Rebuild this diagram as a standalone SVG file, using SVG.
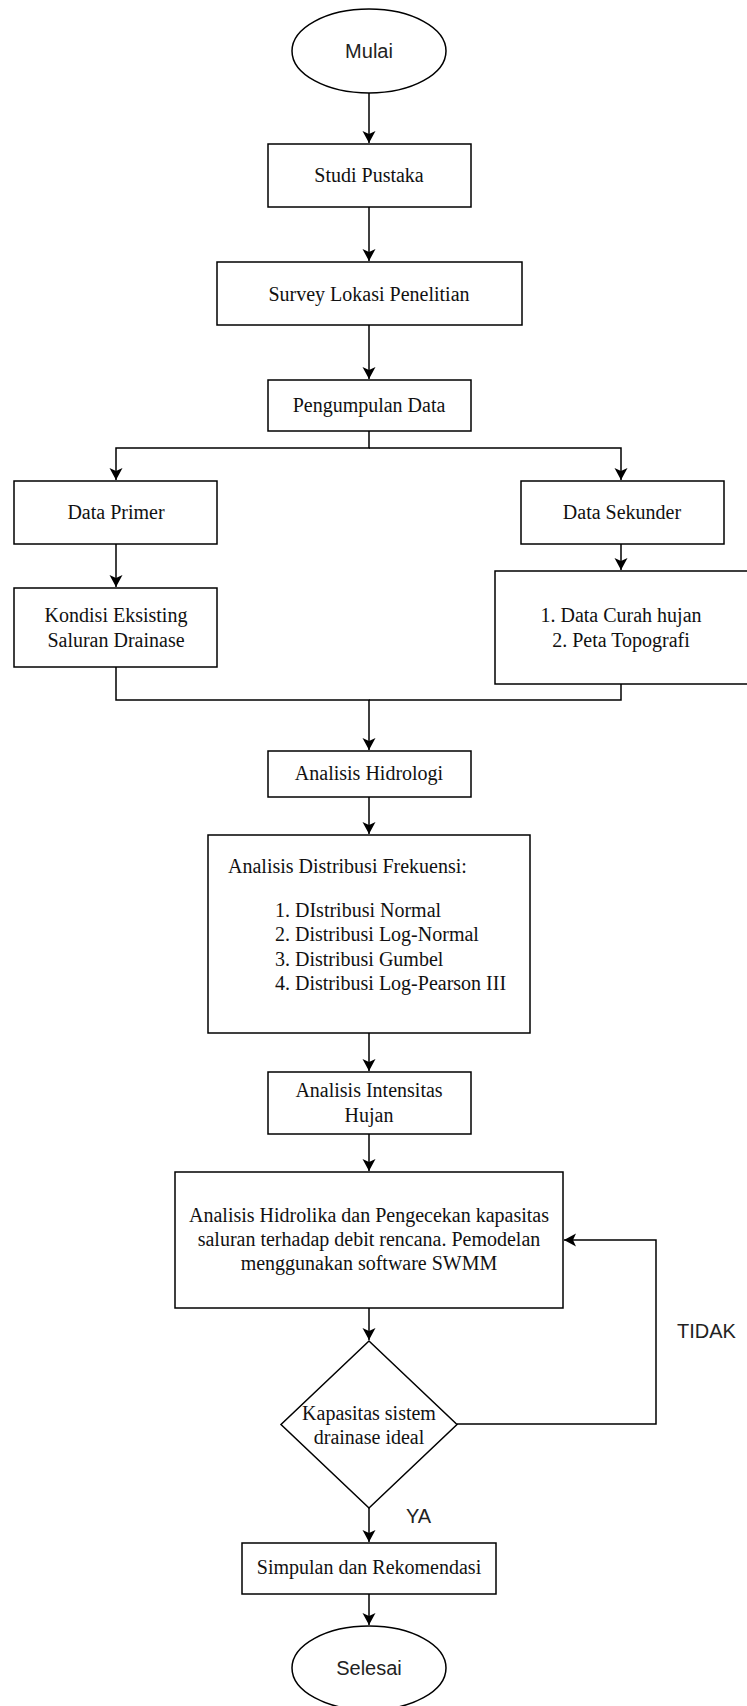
<svg xmlns="http://www.w3.org/2000/svg" width="747" height="1706" viewBox="0 0 747 1706">
<style>
.box{fill:#fff;stroke:#000;stroke-width:1.5}
.serif{font-family:"Liberation Serif","Times New Roman",serif;font-size:20px;fill:#111}
.sans{font-family:"Liberation Sans",Arial,sans-serif;font-size:20px;fill:#222}
.c{text-anchor:middle}
.edge{fill:none;stroke:#000;stroke-width:1.5}
</style>
<defs>
<marker id="arr" markerUnits="userSpaceOnUse" markerWidth="14" markerHeight="14" refX="12" refY="7" orient="auto">
<path d="M0,0.5 L12,7 L0,13.5 L3,7 Z" fill="#000"/>
</marker>
</defs>
<rect width="747" height="1706" fill="#fff"/>
<g id="connectors">
<path class="edge" d="M369,93 V143" marker-end="url(#arr)"/>
<path class="edge" d="M369,207 V261" marker-end="url(#arr)"/>
<path class="edge" d="M369,325 V379" marker-end="url(#arr)"/>
<path class="edge" d="M369,431 V448 H116 V480" marker-end="url(#arr)"/>
<path class="edge" d="M369,448 H621 V480" marker-end="url(#arr)"/>
<path class="edge" d="M116,544 V587" marker-end="url(#arr)"/>
<path class="edge" d="M621,544 V570" marker-end="url(#arr)"/>
<path class="edge" d="M116,667 V700 H369 V750" marker-end="url(#arr)"/>
<path class="edge" d="M621,684 V700 H369"/>
<path class="edge" d="M369,797 V834" marker-end="url(#arr)"/>
<path class="edge" d="M369,1033 V1071" marker-end="url(#arr)"/>
<path class="edge" d="M369,1134 V1171" marker-end="url(#arr)"/>
<path class="edge" d="M369,1308 V1340" marker-end="url(#arr)"/>
<path class="edge" d="M457,1424 H656 V1240 H564" marker-end="url(#arr)"/>
<path class="edge" d="M369,1508 V1542" marker-end="url(#arr)"/>
<path class="edge" d="M369,1594 V1625" marker-end="url(#arr)"/>
<text class="sans" x="677" y="1338">TIDAK</text>
<text class="sans" x="406" y="1523">YA</text>
</g>
<g id="mulai">
<ellipse class="box" cx="369" cy="51" rx="77" ry="42"/>
<text class="sans c" x="369" y="58">Mulai</text>
</g>
<g id="studi">
<rect class="box" x="268" y="144" width="203" height="63"/>
<text class="serif c" x="369" y="182">Studi Pustaka</text>
</g>
<g id="survey">
<rect class="box" x="217" y="262" width="305" height="63"/>
<text class="serif c" x="369" y="301">Survey Lokasi Penelitian</text>
</g>
<g id="pengumpulan">
<rect class="box" x="268" y="380" width="203" height="51"/>
<text class="serif c" x="369" y="412">Pengumpulan Data</text>
</g>
<g id="primer">
<rect class="box" x="14" y="481" width="203" height="63"/>
<text class="serif c" x="116" y="519">Data Primer</text>
</g>
<g id="sekunder">
<rect class="box" x="521" y="481" width="203" height="63"/>
<text class="serif c" x="622" y="519">Data Sekunder</text>
</g>
<g id="kondisi">
<rect class="box" x="14" y="588" width="203" height="79"/>
<text class="serif c" x="116" y="622">Kondisi Eksisting</text>
<text class="serif c" x="116" y="647">Saluran Drainase</text>
</g>
<g id="curah">
<rect class="box" x="495" y="571" width="260" height="113"/>
<text class="serif c" x="621" y="622">1. Data Curah hujan</text>
<text class="serif c" x="621" y="647">2. Peta Topografi</text>
</g>
<g id="hidrologi">
<rect class="box" x="268" y="751" width="203" height="46"/>
<text class="serif c" x="369" y="780">Analisis Hidrologi</text>
</g>
<g id="distribusi">
<rect class="box" x="208" y="835" width="322" height="198"/>
<text class="serif" x="228" y="873">Analisis Distribusi Frekuensi:</text>
<text class="serif" x="275" y="917">1. DIstribusi Normal</text>
<text class="serif" x="275" y="941">2. Distribusi Log-Normal</text>
<text class="serif" x="275" y="966">3. Distribusi Gumbel</text>
<text class="serif" x="275" y="990">4. Distribusi Log-Pearson III</text>
</g>
<g id="intensitas">
<rect class="box" x="268" y="1072" width="203" height="62"/>
<text class="serif c" x="369" y="1097">Analisis Intensitas</text>
<text class="serif c" x="369" y="1122">Hujan</text>
</g>
<g id="hidrolika">
<rect class="box" x="175" y="1172" width="388" height="136"/>
<text class="serif c" x="369" y="1222">Analisis Hidrolika dan Pengecekan kapasitas</text>
<text class="serif c" x="369" y="1246">saluran terhadap debit rencana. Pemodelan</text>
<text class="serif c" x="369" y="1270">menggunakan software SWMM</text>
</g>
<g id="keputusan">
<polygon class="box" points="369,1341 457,1424.5 369,1508 281,1424.5"/>
<text class="serif c" x="369" y="1420">Kapasitas sistem</text>
<text class="serif c" x="369" y="1444">drainase ideal</text>
</g>
<g id="simpulan">
<rect class="box" x="242" y="1543" width="254" height="51"/>
<text class="serif c" x="369" y="1574">Simpulan dan Rekomendasi</text>
</g>
<g id="selesai">
<ellipse class="box" cx="369" cy="1668" rx="77" ry="42"/>
<text class="sans c" x="369" y="1675">Selesai</text>
</g>
</svg>
